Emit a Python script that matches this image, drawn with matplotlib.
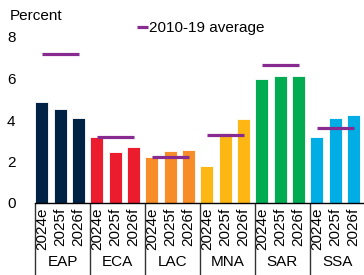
import matplotlib
matplotlib.use("Agg")
import matplotlib.pyplot as plt
import numpy as np

plt.rcParams["font.family"] = ["Liberation Sans", "DejaVu Sans"]

regions = ["EAP", "ECA", "LAC", "MNA", "SAR", "SSA"]
years = ["2024e", "2025f", "2026f"]
growth = [
    [4.85, 4.55, 4.1],
    [3.2, 2.48, 2.68],
    [2.22, 2.49, 2.56],
    [1.78, 3.35, 4.05],
    [5.97, 6.12, 6.12],
    [3.18, 4.08, 4.23],
]
avg_2010_19 = [7.2, 3.17, 2.22, 3.3, 6.65, 3.6]
colors = ["#002244", "#EB1C2D", "#F78D28", "#FDB714", "#00AB51", "#00ADE4"]
avg_color = "#872B90"

fig = plt.figure(figsize=(3.64, 2.75), dpi=100)
ax = fig.add_axes([35 / 364, 1 - 203 / 275, 329 / 364, 166 / 275])

for i, vals in enumerate(growth):
    xs = np.arange(3) + 3 * i
    ax.bar(xs, vals, width=0.71, color=colors[i], edgecolor="white", linewidth=0.6)
    ax.plot([xs[0], xs[-1]], [avg_2010_19[i]] * 2, color=avg_color, lw=2.3,
            solid_capstyle="butt", label="2010-19 average" if i == 0 else None)

ax.set_xlim(-0.38, 17.57)
ax.set_ylim(0, 8)
ax.set_yticks([0, 2, 4, 6, 8])
ax.set_xticks(np.arange(18))
ax.set_xticklabels(years * 6, rotation=90, va="top")
ax.tick_params(axis="both", length=0, labelsize=11)
ax.tick_params(axis="y", pad=14)
ax.tick_params(axis="x", pad=3)
for s in ["top", "right", "left"]:
    ax.spines[s].set_visible(False)
ax.spines["bottom"].set_linewidth(1)

# group separators and region labels
bounds = [3 * i - 0.38 for i in range(7)]
ax.vlines(bounds, -0.44, 0, transform=ax.get_xaxis_transform(), color="#333333",
          lw=1, clip_on=False)
for i, r in enumerate(regions):
    ax.text(3 * i + 1.12, -0.355, r, transform=ax.get_xaxis_transform(),
            ha="center", va="center", fontsize=11)

fig.text(10 / 364, 1 - 16 / 275, "Percent", fontsize=11, ha="left", va="center")
ax.legend(loc="center left", bbox_to_anchor=(102 / 329, 1 + 9 / 166), frameon=False,
          handlelength=0.75, handletextpad=0.05, fontsize=11, borderpad=0,
          borderaxespad=0)

fig.savefig("out.png", dpi=100)
